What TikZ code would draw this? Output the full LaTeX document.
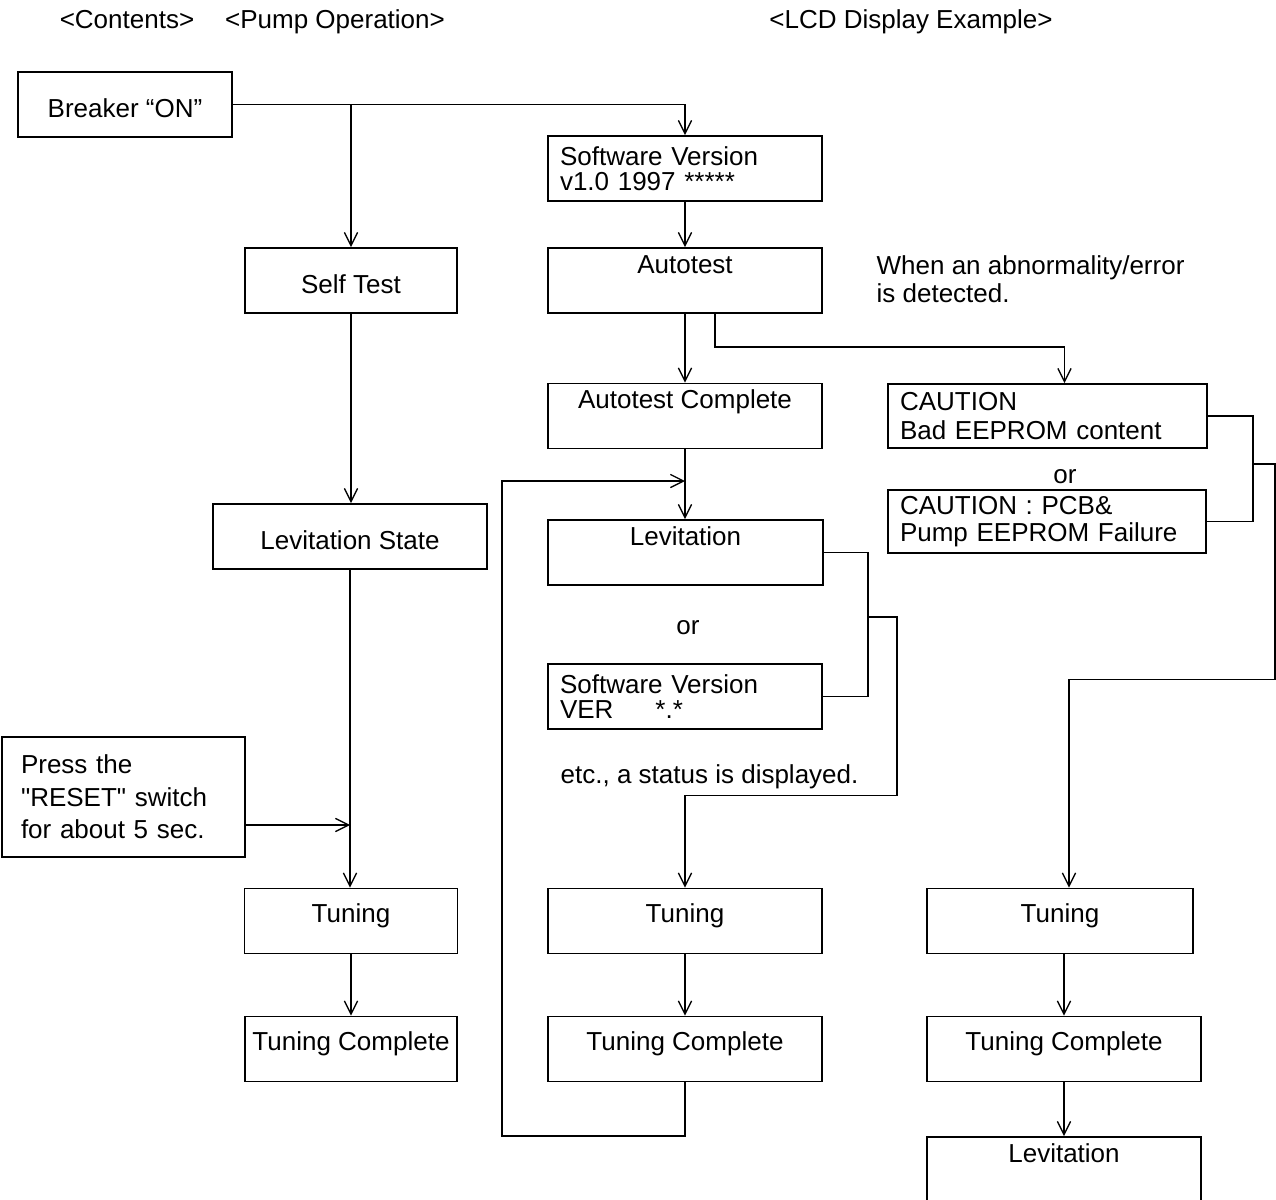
\documentclass[tikz,border=0pt]{standalone}
\usepackage{fontspec}
\setmainfont{Liberation Sans}
\usetikzlibrary{arrows.meta}

\tikzset{
  flowbox/.style={draw, line width=1.1pt, inner xsep=0pt, inner ysep=0pt, minimum height=1.3cm},
  toptext/.style={text height=0.506cm, text depth=0.794cm},
  midtext/.style={text height=0.666cm, text depth=0.614cm},
  lowtext/.style={text height=0.906cm, text depth=0.394cm},
  lcdbox/.style={flowbox, align=left, inner xsep=0.24cm, text width=#1},
  note/.style={inner sep=0pt},
  heading/.style={note, anchor=base},
  flowarrow/.style={-{Straight Barb[length=7.5pt,width=7.5pt]}},
}

\begin{document}
\begin{tikzpicture}[x=0.02cm, y=-0.02cm, font=\fontsize{14.8}{17}\selectfont, line width=0.75pt]
	\useasboundingbox (0,0) rectangle (1276,1200);
	% Headings:
	\node[heading] (hcontents) at (127,29) {<Contents>};
	\node[heading] (hpump) at (335,29) {<Pump Operation>};
	\node[heading] (hlcd) at (911,29) {<LCD Display Example>};

	% Pump operation column:
	\node[flowbox, lowtext, minimum width=4.28cm] (breaker) at (125,104.5) {Breaker “ON”};
	\node[flowbox, lowtext, minimum width=4.24cm] (selftest) at (351,280.5) {Self Test};
	\node[flowbox, lowtext, minimum width=5.48cm] (levstate) at (350,536.5) {Levitation State};
	\node[lcdbox=4.1cm, inner xsep=0.38cm, minimum height=2.4cm, font=\fontsize{14.8}{18.5}\selectfont] (reset) at (123.5,797) {Press the\\\textquotedbl RESET\textquotedbl{} switch\\for about 5 sec.};
	\node[flowbox, midtext, minimum width=4.26cm] (tuneL) at (351,921) {Tuning};
	\node[flowbox, midtext, minimum width=4.24cm] (tunedoneL) at (351,1049) {Tuning Complete};

	% LCD column, normal start:
	\node[lcdbox=5cm, font=\fontsize{14.8}{14.2}\selectfont] (swver) at (685,168.5) {Software Version\\v1.0 1997 *****};
	\node[flowbox, toptext, minimum width=5.48cm] (autotest) at (685,280.5) {Autotest};
	\node[flowbox, toptext, minimum width=5.48cm] (autodone) at (685,416) {Autotest Complete};
	\node[flowbox, toptext, minimum width=5.5cm] (levM) at (685.5,552.5) {Levitation};
	\node (orM) at (688,628) {or};
	\node[lcdbox=5cm, font=\fontsize{14.8}{14.2}\selectfont] (swverM) at (685,696.5) {Software Version\\VER\hspace{0.84cm}*.*};
	\node[note, anchor=west] (status) at (560,777) {etc., a status is displayed.};
	\node[flowbox, midtext, minimum width=5.48cm] (tuneM) at (685,921) {Tuning};
	\node[flowbox, midtext, minimum width=5.48cm] (tunedoneM) at (685,1049) {Tuning Complete};

	% LCD column, on error:
	\node[note, anchor=west, align=left, font=\fontsize{14.8}{16}\selectfont] (abnormal) at (876,279) {When an abnormality/error\\is detected.};
	\node[lcdbox=5.9cm, minimum height=1.28cm, font=\fontsize{14.8}{16}\selectfont] (caution) at (1047.5,416) {CAUTION\\Bad EEPROM content};
	\node (orR) at (1065,477) {or};
	\node[lcdbox=5.88cm, minimum height=1.26cm, font=\fontsize{14.8}{15.4}\selectfont] (pcbfail) at (1047,521.5) {CAUTION\ :\ PCB\&\\Pump EEPROM Failure};
	\node[flowbox, midtext, minimum width=5.32cm] (tuneR) at (1060,921) {Tuning};
	\node[flowbox, midtext, minimum width=5.48cm] (tunedoneR) at (1064,1049) {Tuning Complete};
	\node[flowbox, toptext, minimum width=5.48cm] (levR) at (1064,1169.5) {Levitation};

	% Wires:
	\draw[flowarrow] (breaker.east) -| (swver.north);
	\draw[flowarrow] (breaker.east -| selftest.north) -- (selftest.north);
	\draw[flowarrow] (selftest.south) -- (selftest.south |- levstate.north);
	\draw[flowarrow] (levstate.south) -- (levstate.south |- tuneL.north);
	\draw[flowarrow] ([yshift=-0.56cm]reset.east) -- ([yshift=-0.56cm]reset.east -| levstate.south);
	\draw[flowarrow] (tuneL.south) -- (tunedoneL.north);

	\draw[flowarrow] (swver.south) -- (autotest.north);
	\draw[flowarrow] (autotest.south) -- (autodone.north);
	\draw[flowarrow] (autodone.south) -- (autodone.south |- levM.north);
	\draw[flowarrow] ([xshift=0.6cm]autotest.south) -- ++(0,33) -| ([xshift=0.34cm]caution.north);
	\coordinate (loopdown) at (502,1136);
	\coordinate (loopup) at (502,481);
	\draw[flowarrow] (tunedoneM.south) |- (loopdown) -- (loopup) -- (loopup -| autodone.south);
	\draw (levM.east) -- ++(44,0) |- (swverM.east);
	\coordinate (orjoin) at (867,617);
	\draw[flowarrow] (orjoin) -- ++(30,0) |- ([yshift=1.84cm]tuneM.north) -- (tuneM.north);
	\draw[flowarrow] (tuneM.south) -- (tunedoneM.north);

	\draw (caution.east) -- ++(45,0) |- (pcbfail.east);
	\coordinate (cjoin) at (1252,464);
	\draw[flowarrow] (cjoin) -- ++(23,0) |- ([xshift=0.18cm, yshift=4.16cm]tuneR.north) -- ([xshift=0.18cm]tuneR.north);
	\draw[flowarrow] (tunedoneR.north |- tuneR.south) -- (tunedoneR.north);
	\draw[flowarrow] (tunedoneR.south) -- (levR.north);
\end{tikzpicture}
\end{document}
